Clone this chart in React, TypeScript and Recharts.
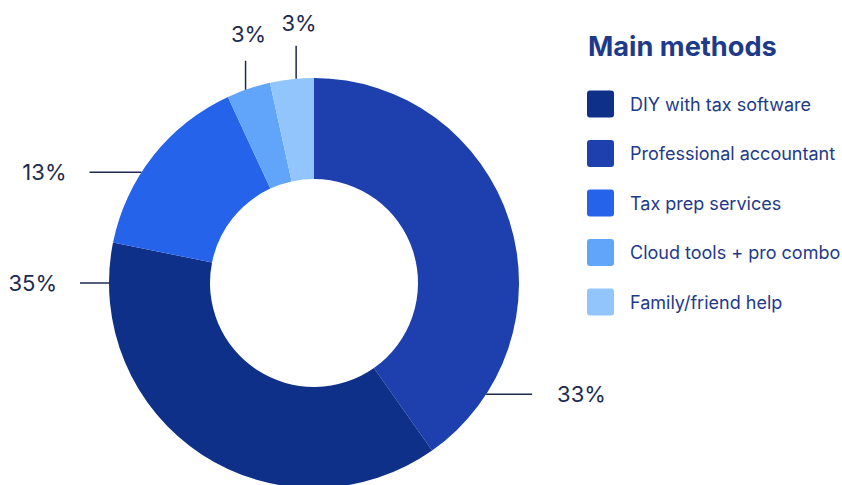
import React from "react";
import { PieChart, Pie, Cell, Legend } from "recharts";

// ---- data ----
const methods = [
  "DIY with tax software",
  "Professional accountant",
  "Tax prep services",
  "Cloud tools + pro combo",
  "Family/friend help",
];
const shares = [33, 35, 13, 3, 3];
const colors = ["#0f3088", "#1e40af", "#2563eb", "#60a5fa", "#93c5fd"];
// order in which slices are drawn clockwise from 12 o'clock
const pieOrder = [1, 0, 2, 3, 4];
const title = "Main methods";

const pieData = pieOrder.map((i) => ({
  name: methods[i],
  value: shares[i],
  color: colors[i],
}));

// ---- label layout (angle clockwise from top, leader direction) ----
const labelLayout: Record<
  string,
  { angle: number; dir: "left" | "right" | "up"; len: number; gap: number }
> = {
  "DIY with tax software": { angle: 122.9, dir: "right", len: 46, gap: 25 },
  "Professional accountant": { angle: 270, dir: "left", len: 29, gap: 23 },
  "Tax prep services": { angle: 302.7, dir: "left", len: 52, gap: 23 },
  "Cloud tools + pro combo": { angle: 340.5, dir: "up", len: 29, gap: 19 },
  "Family/friend help": { angle: 355, dir: "up", len: 33, gap: 15 },
};

const FONT = "Inter, 'Open Sans', sans-serif";
const LABEL_COLOR = "#1c2b4f";

const renderLabel = (props: any) => {
  const { cx, cy, outerRadius, index } = props;
  const entry = pieData[index];
  const L = labelLayout[entry.name];
  const rad = (L.angle * Math.PI) / 180;
  const x0 = cx + outerRadius * Math.sin(rad);
  const y0 = cy - outerRadius * Math.cos(rad);
  const text = `${entry.value}%`;
  if (L.dir === "up") {
    return (
      <g key={`lab-${index}`}>
        <line x1={x0} y1={y0} x2={x0} y2={y0 - L.len} stroke={LABEL_COLOR} strokeWidth={1.5} />
        <text
          x={x0 + 3}
          y={y0 - L.len - L.gap}
          textAnchor="middle"
          fill={LABEL_COLOR}
          fontFamily={FONT}
          fontSize={22}
        >
          {text}
        </text>
      </g>
    );
  }
  const sign = L.dir === "right" ? 1 : -1;
  const x1 = x0 + sign * L.len;
  return (
    <g key={`lab-${index}`}>
      <line x1={x0} y1={y0} x2={x1} y2={y0} stroke={LABEL_COLOR} strokeWidth={1.5} />
      <text
        x={x1 + sign * L.gap}
        y={y0}
        dy={7.5}
        textAnchor={sign > 0 ? "start" : "end"}
        fill={LABEL_COLOR}
        fontFamily={FONT}
        fontSize={22}
      >
        {text}
      </text>
    </g>
  );
};

const LegendContent = () => (
  <svg width={282} height={330} style={{ display: "block" }}>
    <text x={28} y={56} fill="#1e3a8a" fontFamily={FONT} fontWeight={700} fontSize={27.2}>
      {title}
    </text>
    {methods.map((m, i) => {
      const cy = 104 + i * 49.5;
      return (
        <g key={m}>
          <rect x={27} y={cy - 13.5} width={27} height={27} rx={3} fill={colors[i]} />
          <text
            x={70}
            y={cy}
            dy={6.5}
            fill="#1e3a8a"
            fontFamily={FONT}
            fontSize={18}
          >
            {m}
          </text>
        </g>
      );
    })}
  </svg>
);

export default function App() {
  return (
    <div style={{ position: "absolute", left: 0, top: 0, width: 842, height: 485, background: "#fff" }}>
      <PieChart width={842} height={485} margin={{ top: 0, right: 0, bottom: 0, left: 0 }}>
        <Pie
          data={pieData}
          dataKey="value"
          nameKey="name"
          cx={314}
          cy={283}
          innerRadius={104}
          outerRadius={205}
          startAngle={90}
          endAngle={-270}
          stroke="none"
          label={renderLabel}
          labelLine={false}
          isAnimationActive={false}
        >
          {pieData.map((d) => (
            <Cell key={d.name} fill={d.color} />
          ))}
        </Pie>
        <Legend
          content={<LegendContent />}
          wrapperStyle={{ position: "absolute", left: 560, top: 0, width: 282, height: 330 }}
        />
      </PieChart>
    </div>
  );
}
